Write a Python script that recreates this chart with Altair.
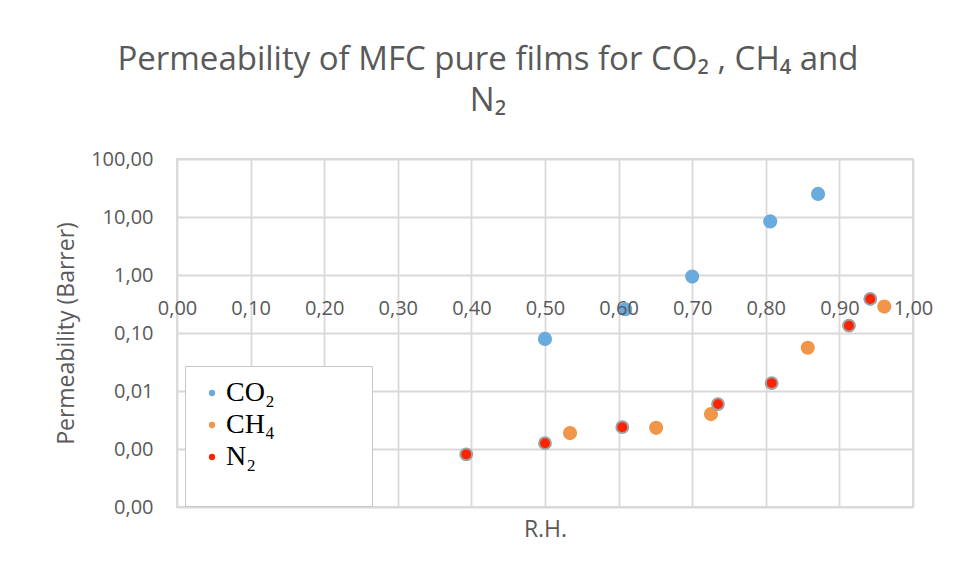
import altair as alt
import pandas as pd

gases = ["CO₂", "CH₄", "N₂"]
colors = ["#6aabdd", "#f1954a", "#ff2200"]

co2_rh = [0.500, 0.609, 0.700, 0.806, 0.871]
co2_perm = [0.079, 0.257, 0.94, 8.4, 25.0]

ch4_rh = [0.534, 0.651, 0.7255, 0.857, 0.961]
ch4_perm = [0.00188, 0.00232, 0.0040, 0.0557, 0.285]

n2_rh = [0.393, 0.500, 0.605, 0.735, 0.808, 0.913, 0.942]
n2_perm = [0.00081, 0.00126, 0.00238, 0.00594, 0.0137, 0.134, 0.386]

x_ticks = [0.0, 0.1, 0.2, 0.3, 0.4, 0.5, 0.6, 0.7, 0.8, 0.9, 1.0]
y_ticks = [0.0001, 0.001, 0.01, 0.1, 1, 10, 100]

title_lines = ["Permeability of MFC pure films for CO₂ , CH₄ and", "N₂"]

W, H = 736, 348

df_co2 = pd.DataFrame({"rh": co2_rh, "perm": co2_perm, "gas": gases[0]})
df_ch4 = pd.DataFrame({"rh": ch4_rh, "perm": ch4_perm, "gas": gases[1]})
df_n2 = pd.DataFrame({"rh": n2_rh, "perm": n2_perm, "gas": gases[2]})

FONT = "Open Sans"
GREY = "#595959"
GRID = "#d9d9d9"
fmt = "replace(format(datum.value, '.2f'), '.', ',')"

x_scale = alt.Scale(domain=[0, 1], nice=False, zero=False)
y_scale = alt.Scale(type="log", domain=[0.0001, 100], nice=False)
color_scale = alt.Scale(domain=gases, range=colors)

axis_x_grid = alt.Axis(orient="bottom", values=x_ticks, labels=False, ticks=False,
                       domain=False, grid=True, gridColor=GRID, gridWidth=1.8,
                       title=None, zindex=0)
axis_x_labels = alt.Axis(orient="bottom", values=x_ticks, grid=False, ticks=False,
                         domain=False, offset=-232, labelPadding=23, labelExpr=fmt,
                         labelFontSize=20, labelColor=GREY, labelFont=FONT,
                         labelFlush=False, labelOverlap=False, title=None, zindex=1)
axis_x_title = alt.Axis(orient="bottom", values=x_ticks, labels=False, ticks=False,
                        domain=False, grid=False, title="R.H.", titleFontSize=23,
                        titleColor=GREY, titleFont=FONT, titleFontWeight="normal",
                        titlePadding=11)

axis_y = alt.Axis(values=y_ticks, labelExpr=fmt, grid=True, gridColor=GRID, gridWidth=1.8,
                  ticks=False, domain=False, labelPadding=24, labelFontSize=20,
                  labelColor=GREY, labelFont=FONT, labelFlush=False, labelOverlap=False,
                  title="Permeability (Barrer)", titleFontSize=23, titleColor=GREY,
                  titleFont=FONT, titleFontWeight="normal", titlePadding=12)

blank = "\u2800"
legend = alt.Legend(orient="none", legendX=8, legendY=207,
                    title=blank, titleOrient="bottom", titleFontSize=18, titlePadding=4,
                    labelFont="Liberation Serif", labelFontSize=28, labelColor="black",
                    symbolType="circle", symbolSize=40, symbolStrokeWidth=0,
                    fillColor="white", strokeColor="#c8c8c8",
                    padding=13, rowPadding=4, labelOffset=0, labelLimit=400,
                    labelExpr="datum.label + '" + blank * 4 + "'")


def layer(df, xaxis, size, **kw):
    return alt.Chart(df).mark_circle(size=size, opacity=1, **kw).encode(
        x=alt.X("rh:Q", scale=x_scale, axis=xaxis),
        y=alt.Y("perm:Q", scale=y_scale, axis=axis_y),
        color=alt.Color("gas:N", scale=color_scale, legend=legend),
    )


l1 = layer(df_co2, axis_x_grid, 200)
l2 = layer(df_ch4, axis_x_labels, 200)
l3 = layer(df_n2, axis_x_title, 140, stroke="#a0a0a0", strokeWidth=2)

chart = alt.layer(l1, l2, l3).resolve_axis(x="independent").properties(
    width=W, height=H,
    autosize=alt.AutoSizeParams(type="none"),
    padding={"left": 177, "top": 159, "right": 42, "bottom": 72},
    background="white",
    title=alt.Title(text=title_lines, fontSize=33, font=FONT, color=GREY,
                    fontWeight="normal", anchor="middle", dx=-57, offset=31,
                    lineHeight=41),
).configure_view(stroke=GRID, strokeWidth=1.8)

chart.save("out.html", embed_options={"renderer": "svg", "actions": False})
